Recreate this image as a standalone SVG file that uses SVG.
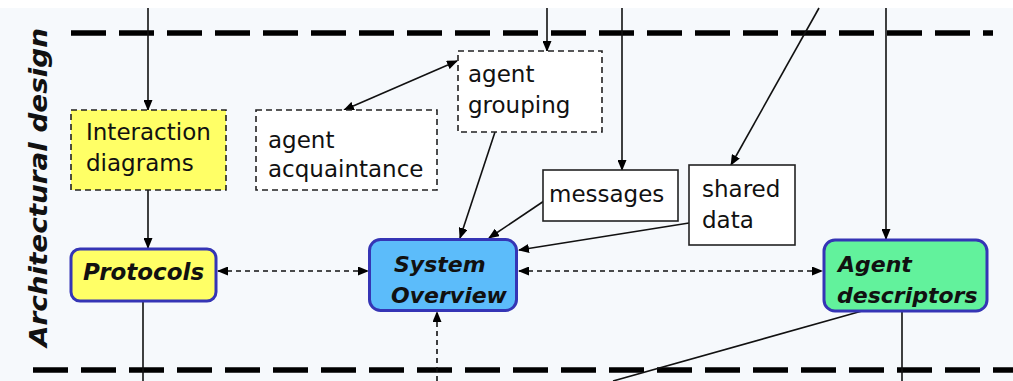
<svg xmlns="http://www.w3.org/2000/svg" width="1013" height="381" viewBox="0 0 1013 381">
<defs>
<marker id="ah" markerUnits="userSpaceOnUse" markerWidth="11" markerHeight="9" refX="10" refY="4.5" orient="auto-start-reverse" viewBox="0 0 11 9">
<path d="M0,0 L11,4.5 L0,9 z" fill="#000"/>
</marker>
</defs>
<style>
.t{font-family:"DejaVu Sans",Verdana,sans-serif;font-size:23px;fill:#111}
.b{font-family:"DejaVu Sans",Verdana,sans-serif;font-weight:bold;font-style:italic;fill:#111}
.dbox{fill:#fff;stroke:#222;stroke-width:1.6;stroke-dasharray:6 4}
.sbox{fill:#fff;stroke:#222;stroke-width:1.6}
.rbox{stroke:#3535b5;stroke-width:3}
.c{fill:none;stroke:#111;stroke-width:1.6}
.cd{fill:none;stroke:#111;stroke-width:1.6;stroke-dasharray:5 4}
.big{fill:none;stroke:#000;stroke-width:5.5;stroke-dasharray:35 13}
</style>
<rect x="0" y="0" width="1013" height="381" fill="#ffffff"/>
<rect x="0" y="8" width="1013" height="373" fill="#f6f9fc"/>
<g id="swimlane">
<line class="big" x1="71" y1="33" x2="993" y2="33"/>
<line class="big" x1="33" y1="370" x2="1013" y2="370"/>
<text class="b" font-size="24" transform="translate(47,187.5) rotate(-90)" text-anchor="middle" textLength="319" lengthAdjust="spacingAndGlyphs">Architectural design</text>
</g>
<g id="connectors">
<line class="c" x1="148" y1="8" x2="148" y2="110" marker-end="url(#ah)"/>
<line class="c" x1="148" y1="190" x2="148" y2="248" marker-end="url(#ah)"/>
<line class="c" x1="143" y1="301" x2="143" y2="381"/>
<line class="cd" x1="218" y1="271" x2="368" y2="271" marker-start="url(#ah)" marker-end="url(#ah)"/>
<line class="cd" x1="519" y1="271" x2="822" y2="271" marker-start="url(#ah)" marker-end="url(#ah)"/>
<line class="cd" x1="437" y1="381" x2="437" y2="312" marker-end="url(#ah)"/>
<line class="c" x1="547" y1="8" x2="547" y2="51" marker-end="url(#ah)"/>
<line class="c" x1="344" y1="110" x2="457" y2="61" marker-start="url(#ah)" marker-end="url(#ah)"/>
<line class="c" x1="495" y1="132" x2="460" y2="238" marker-end="url(#ah)"/>
<line class="c" x1="622" y1="8" x2="622" y2="170" marker-end="url(#ah)"/>
<line class="c" x1="544" y1="201" x2="489" y2="238" marker-end="url(#ah)"/>
<line class="c" x1="689" y1="223" x2="519" y2="250" marker-end="url(#ah)"/>
<line class="c" x1="819" y1="8" x2="731" y2="165" marker-end="url(#ah)"/>
<line class="c" x1="886" y1="8" x2="886" y2="239" marker-end="url(#ah)"/>
<line class="c" x1="862" y1="311" x2="613" y2="381"/>
<line class="c" x1="902" y1="311" x2="902" y2="381"/>
</g>
<g id="interaction-diagrams">
<rect class="dbox" x="71" y="110" width="155" height="80" style="fill:#ffff66"/>
<text class="t" x="86" y="140">Interaction</text>
<text class="t" x="86" y="171">diagrams</text>
</g>
<g id="agent-acquaintance">
<rect class="dbox" x="256" y="110" width="181" height="80"/>
<text class="t" x="268" y="148">agent</text>
<text class="t" x="268" y="177">acquaintance</text>
</g>
<g id="agent-grouping">
<rect class="dbox" x="458" y="51" width="144" height="81"/>
<text class="t" x="468" y="82">agent</text>
<text class="t" x="468" y="113">grouping</text>
</g>
<g id="messages">
<rect class="sbox" x="543" y="170" width="135" height="51"/>
<text class="t" x="549" y="202">messages</text>
</g>
<g id="shared-data">
<rect class="sbox" x="689" y="165" width="106" height="80"/>
<text class="t" x="702" y="197">shared</text>
<text class="t" x="702" y="228">data</text>
</g>
<g id="protocols">
<rect class="rbox" x="71" y="249" width="145" height="52" rx="9" fill="#ffff66"/>
<text class="b" font-size="23" x="83" y="280">Protocols</text>
</g>
<g id="system-overview">
<rect class="rbox" x="369.5" y="239.5" width="147" height="71" rx="11" fill="#5cbcfa"/>
<text class="b" font-size="22" x="394" y="272">System</text>
<text class="b" font-size="22" x="391" y="303">Overview</text>
</g>
<g id="agent-descriptors">
<rect class="rbox" x="824" y="240" width="163" height="71" rx="11" fill="#62f29c"/>
<text class="b" font-size="22" x="838" y="272">Agent</text>
<text class="b" font-size="22" x="837" y="303">descriptors</text>
</g>
</svg>
